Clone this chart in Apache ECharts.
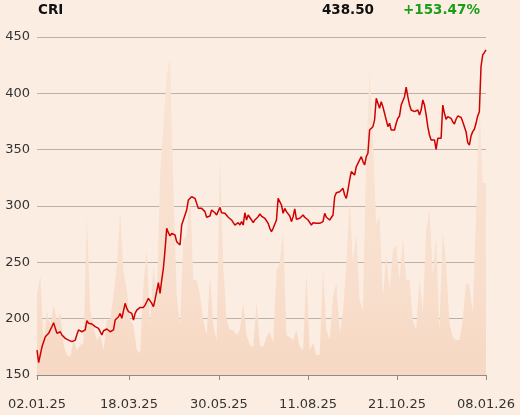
<!DOCTYPE html>
<html>
<head>
<meta charset="utf-8">
<script src="https://cdn.jsdelivr.net/npm/echarts@6/dist/echarts.min.js"></script>
<style>
html,body{margin:0;padding:0;background:#fcede2;}
#chart{width:520px;height:415px;}
</style>
</head>
<body>
<div id="chart"></div>
<script>
// Tick labels (dates) and their positions along the trading-day index
const tickLabels = ['02.01.25', '18.03.25', '30.05.25', '11.08.25', '21.10.25', '08.01.26'];
const tickIndex = [0, 55.3, 109.4, 163, 216.5, 270];

// Closing prices, one per trading day (index 0..270)
const prices = [
  172, 161, 168, 175, 176.6, 184, 185.5, 187, 190, 193, 196.4, 191.4, 187, 185.5, 188.4, 185.5, 184, 182.5, 182.5, 181,
  181.7, 179.6, 178.2, 181, 186, 190, 189.3, 188.4, 187, 190, 198.2, 196, 196.4, 195.3, 197, 192.9, 192.9, 191.4, 190.5, 185.5,
  189.3, 190.5, 190.8, 191.4, 188.4, 187.5,
  190, 198.8, 197.3, 201.7, 204.7, 200.3, 198.8, 213.6, 209.1, 206.2, 207, 204.7, 198.8, 204.7, 207.6, 209.1, 210, 210, 210, 212,
  215, 218, 217, 213.6, 210.6, 217, 218, 232, 222.5, 234.3, 244.7, 261, 280.2, 276.3, 273.4, 275.7, 276.3, 274.3, 268.3, 269.8,
  265.4, 283.1, 287.6, 289.1, 296.4,
  305.3, 304.7, 308.2, 309.8, 306.8, 306.8, 297.9, 296.4, 297.9, 297, 295, 290, 289.1, 291.1, 296.4, 295.5, 294, 292, 293.5, 298.8,
  294, 293.5, 293.5, 292, 290, 291.1, 287.6, 285.2, 283.1, 284, 285.2, 283.1, 286.1, 283.1, 294, 287.6, 292, 291.1, 287.6, 285.2,
  287.6, 289.1, 290.5, 292.9, 291.1,
  290, 289.1, 287.6, 284.6, 280.2, 277.2, 280.2, 281.6, 287.6, 306.8, 306.8, 300.9, 293.5, 297.9, 295, 296.4, 291.1, 286.1, 290.5, 297.4,
  288.2, 288.2, 289.1, 290, 292, 290, 289.1, 287.6, 286.1, 283.1, 285.2, 284, 284.6, 284, 284.6, 284, 286.1, 293.5, 290, 289.1,
  287.6, 287, 292, 308.2, 311.8, 312.7,
  312.7, 312.7, 315.7, 309.8, 306.8, 314.2, 323.1, 330.5, 329, 327.5, 334.9, 337.9, 336.4, 343.8, 339.4, 336.4, 343.8, 346.8, 367.5, 369,
  370.4, 376.4, 395.6, 394.1, 386.7, 392.6, 388.1, 388.1, 376.4, 370.4, 373.4, 367.5, 366, 367.5, 373.4, 377.8, 379.9, 389.6, 390.5, 397,
  405.4, 397, 389.6, 385.2, 383.7,
  383.7, 382.3, 385.2, 380.8, 385.2, 394.1, 389.6, 380.8, 370.4, 363, 358.6, 357.7, 358.6, 350.3, 360.1, 358.6, 360.1, 389.6, 382.3, 377,
  379.3, 380.8, 377.8, 374.8, 372.8, 377, 379.9, 379.3, 378.7, 374.8, 370.4, 366, 356.2, 354.1, 362.1, 366, 368.1, 373.4, 379.9, 383.7,
  423.6, 434, 436.1, 438.5
];

// Trading volume (relative units), one value every second trading day
const volumeStep = 2;
const volumes = [
  80, 100, 29, 63, 50, 70, 55, 62, 30, 20,
  18, 35, 25, 30, 32, 160, 65, 48, 35, 40,
  25, 55, 55, 80, 110, 163, 105, 85, 55, 50,
  25, 22, 90, 125, 50, 110, 70, 200, 250, 300,
  317, 190, 80, 50, 135, 140, 185, 95, 95, 80,
  55, 40, 100, 50, 35, 218, 110, 55, 45, 45,
  40, 45, 72, 40, 30, 28, 72, 30, 28, 38,
  43, 32, 105, 112, 145, 40, 38, 35, 45, 28,
  25, 102, 25, 32, 20, 20, 107, 45, 35, 78,
  92, 42, 62, 112, 175, 112, 142, 75, 65, 220,
  305, 235, 150, 160, 78, 120, 85, 125, 130, 95,
  137, 95, 95, 55, 45, 95, 62, 145, 165, 100,
  140, 45, 145, 112, 52, 38, 35, 35, 55, 92,
  90, 62, 158, 275, 192, 192
];

const headerName = 'CRI';
const headerLast = '438.50';
const headerChange = '+153.47%';

const FONT = '"DejaVu Sans", Verdana, sans-serif';
const chart = echarts.init(document.getElementById('chart'), null, {renderer: 'canvas'});

function labelFor(v) {
  let best = 0, bd = Infinity;
  tickIndex.forEach((t, i) => { const d = Math.abs(t - v); if (d < bd) { bd = d; best = i; } });
  return bd < 0.5 ? tickLabels[best] : '';
}

chart.setOption({
  backgroundColor: '#fcede2',
  animation: false,
  grid: {left: 37, right: 34, top: 37, bottom: 40, containLabel: false},
  graphic: [
    {type: 'text', x: 38, y: 10, style: {text: headerName, font: 'bold 13.5px ' + FONT, fill: '#111', verticalAlign: 'middle'}},
    {type: 'text', x: 374, y: 10, style: {text: headerLast, font: 'bold 13.5px ' + FONT, fill: '#111', align: 'right', verticalAlign: 'middle'}},
    {type: 'text', x: 403, y: 10, style: {text: headerChange, font: 'bold 13.5px ' + FONT, fill: '#1a9e1a', verticalAlign: 'middle'}}
  ],
  xAxis: {
    type: 'value',
    min: 0,
    max: prices.length - 1,
    splitLine: {show: false},
    axisLine: {show: true, lineStyle: {color: '#8f8a86', width: 1}},
    axisTick: {show: true, customValues: tickIndex, length: 5, lineStyle: {color: '#8f8a86'}},
    axisLabel: {
      customValues: tickIndex,
      formatter: labelFor,
      color: '#333',
      fontFamily: FONT,
      fontSize: 13,
      margin: 23,
      showMinLabel: true,
      showMaxLabel: true
    }
  },
  yAxis: [
    {
      type: 'value',
      min: 150,
      max: 450,
      interval: 50,
      axisLine: {show: false},
      axisTick: {show: false},
      splitLine: {show: true, lineStyle: {color: '#b9b1aa', width: 1}},
      axisLabel: {color: '#333', fontFamily: FONT, fontSize: 13, margin: 7}
    },
    {
      type: 'value',
      min: 0,
      max: 338,
      show: false,
      splitLine: {show: false}
    }
  ],
  series: [
    {
      type: 'line',
      yAxisIndex: 1,
      data: volumes.map((v, k) => [k * volumeStep, v]),
      symbol: 'none',
      lineStyle: {width: 0},
      areaStyle: {
        opacity: 1,
        color: new echarts.graphic.LinearGradient(0, 0, 0, 1, [
          {offset: 0, color: '#f9e4d5'},
          {offset: 0.7, color: '#f8dfcd'},
          {offset: 1, color: '#f6d8c3'}
        ])
      },
      silent: true,
      z: 1
    },
    {
      type: 'line',
      yAxisIndex: 0,
      data: prices.map((v, i) => [i, v]),
      symbol: 'none',
      lineStyle: {color: '#d00000', width: 1.5},
      silent: true,
      z: 3
    }
  ]
});
</script>
</body>
</html>
